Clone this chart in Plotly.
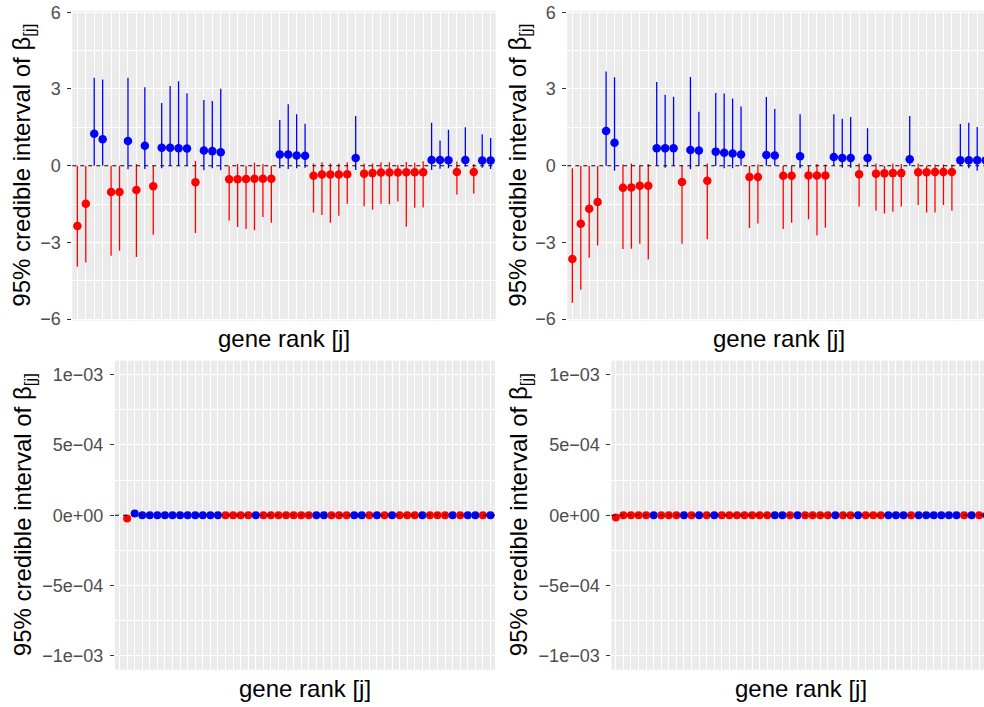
import plotly.graph_objects as go

W, H = 984, 707

genes = list(range(1, 51))

# ---- top-left panel: posterior mean and 95% interval ----
tl_mean = [-2.36, -1.49, 1.25, 1.03, -1.03, -1.03, 0.97, -0.95, 0.78, -0.80,
           0.70, 0.70, 0.68, 0.67, -0.65, 0.59, 0.57, 0.53, -0.53, -0.53,
           -0.52, -0.51, -0.51, -0.51, 0.44, 0.44, 0.40, 0.39, -0.39, -0.34,
           -0.34, -0.34, -0.33, 0.30, -0.31, -0.29, -0.27, -0.27, -0.27, -0.26,
           -0.26, -0.26, 0.22, 0.22, 0.21, -0.25, 0.22, -0.25, 0.20, 0.20]
tl_lower = [-3.95, -3.78, 0.00, 0.00, -3.52, -3.33, -0.14, -3.57, -0.13, -2.70,
            -0.10, 0.00, 0.00, 0.00, -2.63, -0.18, -0.10, -0.18, -2.15, -2.40,
            -2.47, -2.52, -2.01, -2.23, -0.10, -0.13, -0.10, -0.08, -1.83, -1.93,
            -2.23, -1.96, -1.49, -0.17, -1.59, -1.72, -1.49, -1.51, -1.40, -2.39,
            -1.64, -1.63, -0.17, -0.12, -0.10, -1.13, -0.03, -1.10, -0.08, -0.13]
tl_upper = [0.00, 0.00, 3.44, 3.37, 0.00, 0.00, 3.44, 0.07, 3.07, 0.00,
            2.45, 3.12, 3.30, 2.83, 0.18, 2.57, 2.53, 3.01, 0.00, 0.07,
            0.00, 0.12, 0.07, 0.00, 1.79, 2.40, 2.01, 1.64, 0.09, 0.13,
            0.09, 0.09, 0.13, 1.94, 0.09, 0.09, 0.13, 0.13, 0.04, 0.14,
            0.12, 0.17, 1.68, 0.99, 1.41, 0.16, 1.50, 0.07, 1.23, 1.08]

# ---- top-right panel ----
tr_mean = [-3.65, -2.27, -1.68, -1.42, 1.36, 0.90, -0.86, -0.85, -0.78, -0.78,
           0.68, 0.68, 0.68, -0.64, 0.61, 0.59, -0.59, 0.55, 0.51, 0.48,
           0.44, -0.44, -0.44, 0.42, 0.40, -0.39, -0.39, 0.37, -0.38, -0.38,
           -0.38, 0.34, 0.30, 0.30, -0.33, 0.30, -0.31, -0.30, -0.29, -0.29,
           0.25, -0.26, -0.26, -0.25, -0.25, -0.25, 0.21, 0.21, 0.21, 0.21]
tr_lower = [-5.36, -4.85, -3.60, -3.12, 0.00, -0.20, -3.26, -3.25, -3.05, -3.67,
            0.00, -0.08, 0.00, -3.05, -0.14, 0.00, -2.88, 0.00, -0.10, -0.10,
            0.00, -2.44, -2.26, 0.00, 0.00, -2.47, -2.23, -0.10, -2.09, -2.73,
            -2.43, 0.00, -0.08, -0.08, -1.60, -0.05, -1.76, -1.87, -1.80, -1.60,
            0.00, -1.54, -1.83, -1.83, -1.54, -1.76, 0.00, -0.10, -0.20, -0.05]
tr_upper = [-0.10, 0.00, 0.00, 0.00, 3.68, 3.46, 0.05, 0.09, 0.00, 0.07,
            3.27, 2.77, 2.70, 0.00, 3.47, 2.11, 0.09, 2.84, 2.82, 2.63,
            2.31, 0.00, 0.05, 2.69, 2.22, 0.00, 0.00, 2.01, 0.00, 0.07,
            0.05, 2.01, 1.84, 1.90, 0.09, 1.46, 0.09, 0.00, 0.09, 0.07,
            1.94, 0.09, 0.00, 0.05, 0.05, 0.05, 1.63, 1.68, 1.51, 1.45]

# ---- bottom panels: estimates shrunk to ~0 ----
bl_mean = [None, -2.4e-5, 1.2e-5] + [0.0] * 47
bl_sign = ["neg", "neg"] + ["pos"] * 12 + ["neg"] * 4 + ["pos"] + ["neg"] * 7 + \
          ["pos"] * 2 + ["neg"] * 3 + ["pos"] * 2 + ["neg", "pos", "neg", "pos"] + \
          ["neg"] * 3 + ["pos"] + ["neg"] * 3 + ["pos", "neg", "pos", "pos", "neg", "pos"]
br_mean = [-1.7e-5] + [0.0] * 49
br_sign = ["neg"] * 5 + ["pos"] + ["neg"] * 3 + ["pos", "neg", "pos", "neg", "pos"] + \
          ["neg"] * 7 + ["pos"] * 2 + ["neg", "pos"] + ["neg"] * 4 + ["pos"] + \
          ["neg"] * 2 + ["pos"] + ["neg"] * 3 + ["pos"] * 3 + ["neg"] + ["pos"] * 6 + \
          ["neg", "pos", "neg", "pos"]

top_ticks = [-6, -3, 0, 3, 6]
top_ticktext = ["\u22126", "\u22123", "0", "3", "6"]
top_minor = [-4.5, -1.5, 1.5, 4.5]
bot_ticks = [-1e-3, -5e-4, 0, 5e-4, 1e-3]
bot_ticktext = ["\u22121e\u221203", "\u22125e\u221204", "0e+00", "5e\u221204", "1e\u221203"]
bot_minor = [-7.5e-4, -2.5e-4, 2.5e-4, 7.5e-4]

RED, BLUE = "#FF0000", "#0000FF"
FONT = "Liberation Sans, Arial, sans-serif"

fig = go.Figure()


def add_interval_panel(mean, lower, upper, xa, ya):
    for want_neg, col in ((True, RED), (False, BLUE)):
        idx = [i for i, m in enumerate(mean) if (m < 0) == want_neg]
        fig.add_trace(go.Scatter(
            x=[genes[i] for i in idx],
            y=[mean[i] for i in idx],
            mode="markers",
            marker=dict(color=col, size=8.5, line=dict(width=0)),
            error_y=dict(type="data", symmetric=False,
                         array=[upper[i] - mean[i] for i in idx],
                         arrayminus=[mean[i] - lower[i] for i in idx],
                         color=col, thickness=1.3, width=0),
            xaxis=xa, yaxis=ya, showlegend=False, hoverinfo="skip"))


def add_point_panel(mean, sign, xa, ya):
    fig.add_trace(go.Scatter(
        x=genes, y=mean, mode="markers",
        marker=dict(color=[RED if s == "neg" else BLUE for s in sign],
                    size=8, line=dict(width=0)),
        xaxis=xa, yaxis=ya, showlegend=False, hoverinfo="skip"))


add_interval_panel(tl_mean, tl_lower, tl_upper, "x", "y")
add_interval_panel(tr_mean, tr_lower, tr_upper, "x2", "y2")
add_point_panel(bl_mean, bl_sign, "x3", "y3")
add_point_panel(br_mean, br_sign, "x4", "y4")

# panel geometry (pixels)
top_y0, top_y1 = 10.7, 320.7
bot_y0, bot_y1 = 360.7, 669.7
tl_x0, tl_x1 = 72.3, 495.7
tr_x0 = 567.3
bl_x0, bl_x1 = 115.0, 495.0
br_x0 = 611.3

top_step = (tl_x1 - tl_x0) / 50.2
bot_step = (bl_x1 - bl_x0) / 50.2

xcommon = dict(tickvals=genes, showticklabels=False, ticks="", showgrid=True,
               gridcolor="white", gridwidth=1.1, zeroline=False, showline=False,
               fixedrange=True, automargin=False)


def yax(domain, rng, ticks, text, minor):
    return dict(domain=domain, range=rng, tickvals=ticks, ticktext=text,
                ticks="outside", ticklen=4, tickwidth=1.1, tickcolor="#333333",
                tickfont=dict(size=18, color="#4D4D4D", family=FONT),
                ticklabelstandoff=3, automargin=False,
                showgrid=True, gridcolor="white", gridwidth=1.1,
                minor=dict(tickvals=minor, showgrid=True, gridcolor="white",
                           gridwidth=0.55, ticks=""),
                zeroline=False, showline=False, fixedrange=True)


top_dom = [1 - top_y1 / H, 1 - top_y0 / H]
bot_dom = [1 - bot_y1 / H, 1 - bot_y0 / H]

fig.update_layout(
    width=W, height=H,
    margin=dict(l=0, r=0, t=0, b=0, autoexpand=False),
    paper_bgcolor="white", plot_bgcolor="#EBEBEB",
    font=dict(family=FONT),
    xaxis=dict(domain=[tl_x0 / W, tl_x1 / W], range=[0.4, 50.6], anchor="y", **xcommon),
    xaxis2=dict(domain=[tr_x0 / W, 1.0], range=[0.4, 0.4 + (W - tr_x0) / top_step],
                anchor="y2", **xcommon),
    xaxis3=dict(domain=[bl_x0 / W, bl_x1 / W], range=[0.4, 50.6], anchor="y3", **xcommon),
    xaxis4=dict(domain=[br_x0 / W, 1.0], range=[0.4, 0.4 + (W - br_x0) / bot_step],
                anchor="y4", **xcommon),
    yaxis=dict(anchor="x", **yax(top_dom, [-6.06, 6.06], top_ticks, top_ticktext, top_minor)),
    yaxis2=dict(anchor="x2", **yax(top_dom, [-6.06, 6.06], top_ticks, top_ticktext, top_minor)),
    yaxis3=dict(anchor="x3", **yax(bot_dom, [-1.1e-3, 1.1e-3], bot_ticks, bot_ticktext, bot_minor)),
    yaxis4=dict(anchor="x4", **yax(bot_dom, [-1.1e-3, 1.1e-3], bot_ticks, bot_ticktext, bot_minor)),
)

# dashed zero reference lines
for xr, yr in (("x", "y"), ("x2", "y2"), ("x3", "y3"), ("x4", "y4")):
    fig.add_shape(type="line", xref=f"{xr} domain", yref=yr, x0=0, x1=1, y0=0, y1=0,
                  line=dict(color="black", width=1.1, dash="4px,4px"), layer="above")

ytitle = "95% credible interval of \u03b2<sub>[j]</sub>"
xtitle = "gene rank [j]"
TS = 24
annots = [
    dict(x=(tl_x0 + tl_x1) / 2 / W, y=1 - 338 / H, text=xtitle),
    dict(x=(tr_x0 + tr_x0 + (tl_x1 - tl_x0)) / 2 / W, y=1 - 338 / H, text=xtitle),
    dict(x=(bl_x0 + bl_x1) / 2 / W, y=1 - 688 / H, text=xtitle),
    dict(x=(br_x0 + br_x0 + (bl_x1 - bl_x0)) / 2 / W, y=1 - 688 / H, text=xtitle),
    dict(x=24 / W, y=1 - (top_y0 + top_y1) / 2 / H, text=ytitle, textangle=-90),
    dict(x=520 / W, y=1 - (top_y0 + top_y1) / 2 / H, text=ytitle, textangle=-90),
    dict(x=24 / W, y=1 - (bot_y0 + bot_y1) / 2 / H, text=ytitle, textangle=-90),
    dict(x=520 / W, y=1 - (bot_y0 + bot_y1) / 2 / H, text=ytitle, textangle=-90),
]
for a in annots:
    fig.add_annotation(xref="paper", yref="paper", xanchor="center", yanchor="middle",
                       showarrow=False, font=dict(size=TS, color="black", family=FONT), **a)

fig.write_html("out.html",
               config={"displayModeBar": False},
               post_script="document.body.style.margin='0';"
                           "document.body.style.overflow='hidden';")
